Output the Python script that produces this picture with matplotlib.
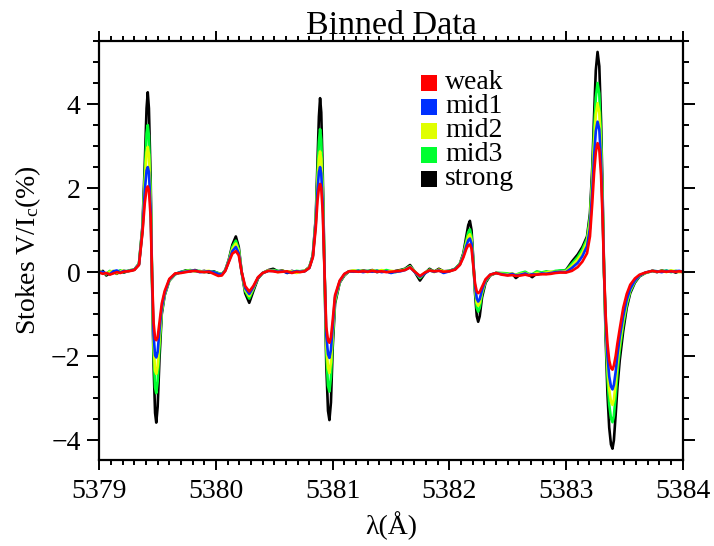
import matplotlib
matplotlib.use("Agg")
import matplotlib.pyplot as plt
from matplotlib.patches import Rectangle
from matplotlib.ticker import MultipleLocator

plt.rcParams["font.family"] = ["Liberation Serif", "DejaVu Serif"]
plt.rcParams["mathtext.fontset"] = "custom"
plt.rcParams["mathtext.rm"] = "Liberation Serif"
plt.rcParams["mathtext.it"] = "Liberation Serif:italic"

# Wavelength samples (Angstrom), grouped by spectral region
wavelength = [
    # continuum
    5379.00, 5379.03, 5379.06, 5379.09, 5379.12, 5379.15, 5379.18, 5379.21, 5379.24, 5379.27,
    # line 1
    5379.30, 5379.34, 5379.37, 5379.39, 5379.405, 5379.415, 5379.425, 5379.44, 5379.451,
    5379.465, 5379.478, 5379.488, 5379.50, 5379.515, 5379.535, 5379.56, 5379.60, 5379.65,
    # continuum
    5379.70, 5379.74, 5379.78, 5379.82, 5379.86, 5379.90, 5379.94, 5379.98, 5380.02,
    # line 2
    5380.05, 5380.08, 5380.11, 5380.14, 5380.17, 5380.195, 5380.22, 5380.25, 5380.285,
    5380.32, 5380.36, 5380.40, 5380.45,
    # continuum
    5380.49, 5380.53, 5380.57, 5380.61, 5380.65, 5380.69, 5380.72,
    # line 3
    5380.76, 5380.80, 5380.83, 5380.855, 5380.87, 5380.882, 5380.892, 5380.902, 5380.915,
    5380.93, 5380.945, 5380.96, 5380.972, 5380.985, 5381.00, 5381.02, 5381.06, 5381.10, 5381.14,
    # continuum
    5381.18, 5381.22, 5381.26, 5381.30, 5381.34, 5381.38, 5381.42, 5381.46, 5381.50, 5381.54, 5381.58,
    # weak blend
    5381.62, 5381.663, 5381.70, 5381.748, 5381.79, 5381.83, 5381.87, 5381.91, 5381.95,
    # line 4
    5382.00, 5382.05, 5382.09, 5382.12, 5382.145, 5382.162, 5382.176, 5382.19, 5382.205,
    5382.22, 5382.235, 5382.247, 5382.26, 5382.28, 5382.31, 5382.35, 5382.40,
    # continuum
    5382.45, 5382.50, 5382.54, 5382.57, 5382.61, 5382.65, 5382.68, 5382.71, 5382.75, 5382.79,
    5382.83, 5382.87, 5382.91, 5382.95,
    # line 5
    5383.00, 5383.05, 5383.10, 5383.14, 5383.18, 5383.205, 5383.225, 5383.24, 5383.255, 5383.27,
    5383.285, 5383.30, 5383.313, 5383.326, 5383.34, 5383.355, 5383.37, 5383.385, 5383.398, 5383.41,
    5383.425, 5383.44, 5383.46, 5383.49, 5383.52, 5383.55, 5383.59, 5383.63, 5383.68, 5383.74,
    # continuum
    5383.78, 5383.82, 5383.86, 5383.90, 5383.94, 5383.97, 5384.00,
]

# Stokes V / Ic (%) for each magnetic-field bin
v_strong = [
    -0.02, 0.03, -0.08, -0.02, 0.02, -0.04, 0.03, -0.01, 0.02, 0.04,
    0.06, 0.20, 1.10, 2.60, 3.90, 4.28, 3.90, 2.20, 0.00,
    -2.20, -3.35, -3.58, -3.20, -2.10, -1.00, -0.55, -0.20, -0.05,
    0.00, 0.04, 0.02, 0.05, 0.01, 0.03, -0.01, 0.02, -0.03,
    -0.05, 0.05, 0.30, 0.65, 0.85, 0.60, 0.00, -0.50, -0.73,
    -0.45, -0.15, -0.02, 0.05,
    0.08, 0.02, 0.04, -0.02, 0.03, 0.00, 0.02,
    0.03, 0.12, 0.40, 1.30, 2.60, 3.70, 4.14, 3.80, 2.30,
    0.00, -2.20, -3.30, -3.52, -3.10, -1.80, -0.75, -0.25, -0.08, 0.02,
    0.03, 0.01, 0.04, 0.02, 0.05, 0.00, 0.03, 0.02, -0.01, 0.03, 0.05,
    0.08, 0.17, 0.02, -0.20, -0.03, 0.08, 0.01, 0.08, 0.02,
    0.03, 0.08, 0.20, 0.45, 0.85, 1.12, 1.22, 1.00, 0.30,
    -0.50, -1.05, -1.18, -1.05, -0.60, -0.25, -0.08, -0.02,
    -0.03, -0.06, -0.04, -0.14, -0.05, -0.03, -0.06, -0.12, -0.03, -0.04,
    0.00, -0.02, 0.01, 0.03,
    0.05, 0.25, 0.42, 0.60, 0.85, 1.40, 2.50, 3.70, 4.80, 5.24,
    4.90, 3.60, 1.90, 0.00, -1.60, -2.90, -3.70, -4.10, -4.20, -4.00,
    -3.40, -2.75, -2.10, -1.40, -0.85, -0.50, -0.25, -0.10, -0.02, 0.03,
    0.00, 0.04, 0.01, 0.03, -0.01, 0.02, 0.00,
]
v_mid3 = [
    0.02, -0.03, -0.04, 0.03, -0.02, 0.01, 0.04, 0.00, 0.03, 0.05,
    0.06, 0.20, 1.05, 2.35, 3.30, 3.50, 3.25, 1.90, 0.00,
    -1.90, -2.75, -2.88, -2.60, -1.80, -0.95, -0.53, -0.20, -0.05,
    0.01, 0.03, 0.05, 0.02, 0.03, 0.00, 0.02, 0.01, -0.02,
    -0.05, 0.05, 0.28, 0.60, 0.75, 0.55, 0.00, -0.45, -0.63,
    -0.40, -0.14, -0.02, 0.04,
    0.05, 0.03, 0.01, 0.02, -0.01, 0.03, 0.02,
    0.03, 0.12, 0.40, 1.25, 2.35, 3.10, 3.40, 3.15, 2.00,
    0.00, -1.90, -2.70, -2.84, -2.50, -1.60, -0.70, -0.24, -0.07, 0.02,
    0.02, 0.04, 0.01, 0.03, 0.02, 0.04, 0.01, 0.05, 0.02, 0.00, 0.04,
    0.07, 0.14, 0.03, -0.14, -0.02, 0.06, 0.02, 0.05, 0.01,
    0.03, 0.08, 0.20, 0.42, 0.75, 0.95, 1.02, 0.85, 0.25,
    -0.42, -0.85, -0.94, -0.85, -0.52, -0.22, -0.07, -0.02,
    -0.02, -0.03, -0.05, -0.06, -0.02, 0.01, -0.04, -0.05, 0.02, -0.01,
    0.02, 0.00, 0.03, 0.04,
    0.04, 0.20, 0.36, 0.54, 0.80, 1.30, 2.30, 3.35, 4.15, 4.50,
    4.25, 3.20, 1.70, 0.00, -1.40, -2.50, -3.15, -3.48, -3.57, -3.42,
    -2.95, -2.40, -1.85, -1.25, -0.78, -0.46, -0.23, -0.09, -0.02, 0.03,
    0.02, 0.01, 0.04, 0.00, 0.03, 0.01, 0.02,
]
v_mid2 = [
    0.04, -0.01, -0.05, 0.01, 0.03, -0.03, 0.02, 0.04, 0.01, 0.05,
    0.06, 0.19, 1.00, 2.15, 2.85, 2.98, 2.80, 1.70, 0.00,
    -1.70, -2.35, -2.42, -2.25, -1.60, -0.90, -0.52, -0.19, -0.04,
    -0.01, 0.02, 0.04, 0.03, 0.01, 0.02, 0.03, -0.01, -0.03,
    -0.06, 0.05, 0.27, 0.55, 0.68, 0.50, 0.00, -0.42, -0.57,
    -0.38, -0.13, -0.02, 0.04,
    0.04, 0.00, 0.03, 0.01, 0.02, -0.02, 0.01,
    0.03, 0.11, 0.38, 1.20, 2.15, 2.70, 2.87, 2.70, 1.80,
    0.00, -1.70, -2.28, -2.40, -2.15, -1.45, -0.65, -0.23, -0.06, 0.02,
    0.04, 0.02, 0.03, 0.00, 0.04, 0.02, 0.05, 0.01, 0.03, 0.02, 0.03,
    0.06, 0.13, 0.02, -0.12, -0.02, 0.05, 0.00, 0.06, 0.02,
    0.02, 0.07, 0.19, 0.40, 0.68, 0.85, 0.90, 0.76, 0.22,
    -0.38, -0.73, -0.80, -0.73, -0.47, -0.20, -0.07, -0.02,
    -0.04, -0.05, -0.03, -0.07, -0.04, -0.02, -0.05, -0.06, -0.02, -0.03,
    -0.01, 0.01, 0.00, 0.02,
    0.02, 0.15, 0.30, 0.46, 0.72, 1.20, 2.15, 3.05, 3.75, 4.02,
    3.80, 2.90, 1.55, 0.00, -1.30, -2.25, -2.80, -3.08, -3.16, -3.03,
    -2.65, -2.18, -1.70, -1.15, -0.72, -0.43, -0.21, -0.08, -0.02, 0.03,
    0.01, 0.03, 0.00, 0.04, 0.02, 0.00, 0.01,
]
v_mid1 = [
    0.01, 0.00, -0.03, -0.05, 0.02, 0.04, -0.01, 0.03, 0.02, 0.04,
    0.06, 0.18, 0.98, 1.95, 2.42, 2.50, 2.38, 1.50, 0.00,
    -1.50, -1.98, -2.03, -1.90, -1.40, -0.85, -0.50, -0.18, -0.04,
    0.00, 0.01, 0.03, 0.04, 0.00, 0.01, 0.02, 0.00, -0.04,
    -0.06, 0.04, 0.26, 0.50, 0.60, 0.45, 0.00, -0.38, -0.52,
    -0.36, -0.13, -0.02, 0.03,
    0.03, 0.01, 0.02, -0.01, 0.00, 0.02, 0.01,
    0.02, 0.10, 0.37, 1.15, 1.95, 2.38, 2.50, 2.35, 1.60,
    0.00, -1.50, -1.95, -2.04, -1.85, -1.30, -0.60, -0.22, -0.05, 0.02,
    0.01, 0.03, 0.00, 0.02, 0.01, 0.03, 0.00, 0.02, -0.02, 0.01, 0.02,
    0.05, 0.12, 0.01, -0.11, -0.03, 0.04, 0.01, 0.04, -0.02,
    0.02, 0.07, 0.18, 0.38, 0.62, 0.76, 0.80, 0.68, 0.20,
    -0.33, -0.63, -0.70, -0.64, -0.43, -0.19, -0.06, -0.02,
    -0.05, -0.07, -0.04, -0.08, -0.06, -0.03, -0.07, -0.05, -0.06, -0.03,
    -0.04, -0.02, 0.00, 0.01,
    0.00, 0.10, 0.22, 0.38, 0.62, 1.05, 1.95, 2.75, 3.35, 3.58,
    3.40, 2.65, 1.45, 0.00, -1.20, -2.00, -2.48, -2.72, -2.79, -2.68,
    -2.38, -1.98, -1.55, -1.05, -0.66, -0.40, -0.20, -0.08, -0.01, 0.03,
    0.02, 0.00, 0.03, 0.01, 0.02, 0.03, 0.01,
]
v_weak = [
    -0.01, -0.04, -0.02, -0.06, -0.03, 0.00, -0.02, 0.01, 0.02, 0.03,
    0.05, 0.17, 0.95, 1.65, 1.98, 2.04, 1.95, 1.30, 0.00,
    -1.20, -1.58, -1.62, -1.55, -1.20, -0.75, -0.45, -0.16, -0.03,
    -0.02, 0.00, 0.02, 0.03, 0.01, 0.00, 0.01, -0.04, -0.09,
    -0.08, 0.03, 0.24, 0.44, 0.50, 0.40, 0.00, -0.33, -0.46,
    -0.33, -0.12, -0.02, 0.03,
    0.02, 0.00, 0.01, 0.02, -0.02, 0.01, 0.00,
    0.02, 0.10, 0.35, 1.05, 1.70, 2.00, 2.10, 2.00, 1.40,
    0.00, -1.30, -1.62, -1.68, -1.55, -1.15, -0.55, -0.20, -0.04, 0.02,
    0.02, 0.01, 0.02, 0.01, 0.03, 0.01, 0.02, 0.00, 0.01, 0.02, 0.03,
    0.05, 0.11, 0.02, -0.09, -0.01, 0.04, 0.02, 0.03, 0.01,
    0.02, 0.06, 0.17, 0.35, 0.55, 0.64, 0.66, 0.56, 0.15,
    -0.27, -0.46, -0.50, -0.47, -0.35, -0.17, -0.06, -0.02,
    -0.06, -0.08, -0.07, -0.09, -0.08, -0.06, -0.08, -0.07, -0.06, -0.05,
    -0.05, -0.04, -0.02, -0.01,
    -0.01, 0.03, 0.12, 0.25, 0.45, 0.85, 1.65, 2.35, 2.85, 3.07,
    2.92, 2.30, 1.30, 0.00, -1.05, -1.70, -2.10, -2.28, -2.32, -2.22,
    -2.00, -1.70, -1.35, -0.85, -0.52, -0.30, -0.15, -0.06, -0.01, 0.03,
    0.01, 0.02, 0.01, 0.02, 0.01, 0.02, 0.01,
]

labels = ["weak", "mid1", "mid2", "mid3", "strong"]
colors = ["#ff0000", "#0030ff", "#e0ff00", "#00ff30", "#000000"]
series = [v_weak, v_mid1, v_mid2, v_mid3, v_strong]

fig = plt.figure(figsize=(7.14, 5.46), dpi=100)
ax = fig.add_axes([0.1391, 0.1575, 0.9562 - 0.1391, 0.9249 - 0.1575])

# strongest bin underneath, weakest on top
for vals, col in reversed(list(zip(series, colors))):
    ax.plot(wavelength, vals, color=col, lw=1.9, solid_joinstyle="round")

ax.set_xlim(5379, 5384)
ax.set_ylim(-4.47, 5.5)
ax.xaxis.set_major_locator(MultipleLocator(1))
ax.xaxis.set_minor_locator(MultipleLocator(0.1))
ax.yaxis.set_major_locator(MultipleLocator(2))
ax.yaxis.set_minor_locator(MultipleLocator(0.5))
ax.ticklabel_format(useOffset=False)

for side in ax.spines.values():
    side.set_linewidth(1.6)
ax.tick_params(axis="both", which="both", direction="out", top=True, right=True,
               width=1.4, labelsize=20)
ax.tick_params(axis="x", which="major", length=7, pad=7)
ax.tick_params(axis="x", which="minor", length=3.8)
ax.tick_params(axis="y", which="major", length=8.5, pad=5)
ax.tick_params(axis="y", which="minor", length=4.5)

ax.set_title("Binned Data", fontsize=24.5, pad=2)
ax.set_xlabel("λ(Å)", fontsize=20, labelpad=5)
ax.set_ylabel(r"Stokes V/I$_\mathrm{c}$(%)", fontsize=20, labelpad=6)

# legend: colour squares with labels
W, H = 714.0, 546.0
sq = 15.7
for i, (lab, col) in enumerate(zip(labels, colors)):
    top = 75 + 24 * i
    fig.patches.append(Rectangle((421 / W, 1 - (top + sq) / H), sq / W, sq / H,
                                 transform=fig.transFigure, facecolor=col,
                                 edgecolor="none"))
    fig.text(445 / W, 1 - (top + sq / 2) / H, lab, fontsize=20,
             va="center", ha="left")

fig.savefig("out.png", dpi=100)
